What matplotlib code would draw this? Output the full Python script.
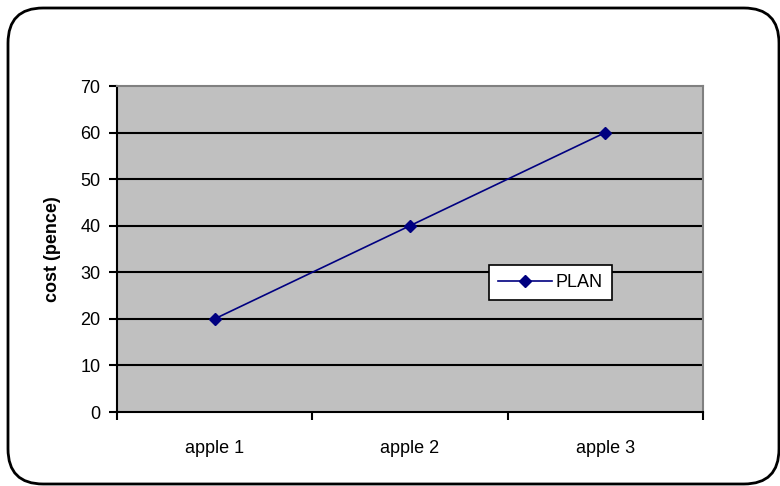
import matplotlib.pyplot as plt
from matplotlib.patches import FancyBboxPatch

plt.rcParams['font.family'] = ['Liberation Sans', 'DejaVu Sans']

# data
categories = ['apple 1', 'apple 2', 'apple 3']
plan = [20, 40, 60]
y_ticks = [0, 10, 20, 30, 40, 50, 60, 70]

fig = plt.figure(figsize=(7.8, 4.86), dpi=100)
ax = fig.add_axes([117 / 780, 74 / 486, 586 / 780, 326 / 486])

# rounded frame round the whole chart
frame = FancyBboxPatch((8 / 780, 2 / 486), 771 / 780, 476 / 486,
                       boxstyle='round,pad=0,rounding_size=0.045',
                       transform=fig.transFigure, facecolor='none',
                       edgecolor='black', linewidth=2, mutation_aspect=780 / 486,
                       clip_on=False)
fig.patches.append(frame)

ax.set_facecolor('#C0C0C0')
x = list(range(len(categories)))
ax.plot(x, plan, color='#000080', marker='D', markersize=6, linewidth=1.2,
        label='PLAN', zorder=3)

ax.set_xlim(-0.5, len(categories) - 0.5)
ax.set_ylim(0, 70)
ax.set_yticks(y_ticks)
ax.set_yticklabels([str(v) for v in y_ticks], fontsize=13)
ax.set_xticks(x)
ax.set_xticklabels(categories, fontsize=13)
ax.tick_params(axis='x', length=0, pad=20)
ax.set_xticks([i - 0.5 for i in range(len(categories) + 1)], minor=True)
ax.tick_params(axis='x', which='minor', length=6, width=1.5, direction='out')
ax.tick_params(axis='y', length=6, width=1.5, direction='out', pad=6)

for v in y_ticks[1:-1]:
    ax.axhline(v, color='black', linewidth=1.5, zorder=1)

ax.spines['left'].set_linewidth(1.5)
ax.spines['bottom'].set_linewidth(1.5)
ax.spines['top'].set_color('#808080')
ax.spines['right'].set_color('#808080')
ax.spines['top'].set_linewidth(1.5)
ax.spines['right'].set_linewidth(1.5)

ax.set_ylabel('cost (pence)', fontsize=13, fontweight='bold', labelpad=14)

leg = ax.legend(loc='center', bbox_to_anchor=(0.74, 0.397), fontsize=13,
                fancybox=False, framealpha=1, edgecolor='black',
                handlelength=3, borderpad=0.5, handletextpad=0.2)
leg.get_frame().set_linewidth(1.2)

fig.savefig('out.png', dpi=100, facecolor='white')
